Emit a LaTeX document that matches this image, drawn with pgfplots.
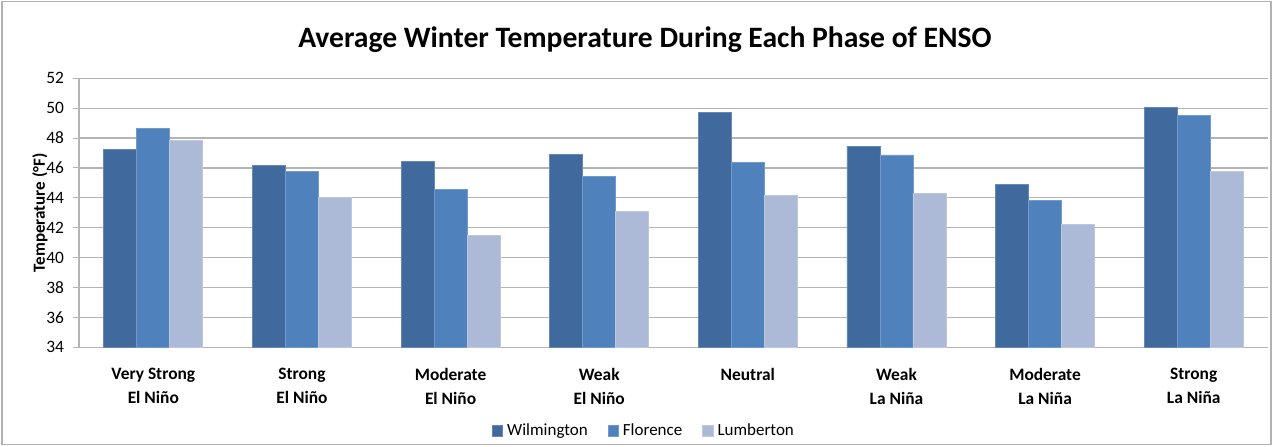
\documentclass[border=0pt]{standalone}
\usepackage{fontspec}
\setmainfont{Carlito}
\usepackage{pgfplots}
\pgfplotsset{compat=1.18}
\definecolor{cW}{HTML}{406A9D}
\definecolor{cF}{HTML}{4F81BD}
\definecolor{cL}{HTML}{ACBAD7}
\definecolor{gridc}{HTML}{B4B4B4}
\begin{document}
\begin{tikzpicture}[x=1pt,y=1pt]
\useasboundingbox (0,0) rectangle (637,223);
\draw[gray!60, line width=0.6pt] (1,0.8) rectangle (635.5,222.2);
\node[font=\fontsize{14.8}{17}\selectfont\bfseries] at (322.5,203) {Average Winter Temperature During Each Phase of ENSO};
\begin{axis}[
  at={(39.5pt,49.35pt)}, anchor=south west,
  scale only axis, width=594.5pt, height=134.5pt,
  ymin=34, ymax=52, ytick={34,36,...,52},
  xmin=-0.5, xmax=7.5,
  xtick={0,...,7},
  xticklabels={{Very Strong\\El Niño},{Strong\\El Niño},{Moderate\\El Niño},{Weak\\El Niño},{Neutral},{Weak\\La Niña},{Moderate\\La Niña},{Strong\\La Niña}},
  xticklabel style={align=center, font=\fontsize{8.7}{12}\selectfont\bfseries, yshift=-4pt},
  major x tick style={draw=none},
  extra x ticks={-0.5,0.5,...,7.5},
  extra x tick labels={},
  extra x tick style={grid=none, major tick length=3.5pt, tick align=outside, tick style={draw=gridc, line width=0.5pt}},
  ymajorgrids, grid style={gridc, line width=0.6pt},
  y tick style={draw=gridc, line width=0.5pt},
  tick align=outside, major tick length=3pt,
  yticklabel style={font=\fontsize{8.7}{10}\selectfont, xshift=-1pt},
  /pgf/number format/assume math mode=true,
  axis line style={draw=gridc, line width=0.6pt},
  axis x line*=bottom, axis y line*=left,
  ylabel={Temperature (°F)},
  ylabel style={font=\fontsize{8.5}{10}\selectfont\bfseries, at={(axis description cs:-0.0328,0.5)}, anchor=center},
  ybar, bar width=16.5pt,
  legend style={at={(axis description cs:0.476,-0.311)}, anchor=center, draw=none, fill=none, legend columns=3,
     font=\fontsize{8.5}{10}\selectfont, /tikz/every even column/.append style={column sep=8pt}},
  legend image code/.code={\fill[#1] (0pt,-2.6pt) rectangle (5.2pt,2.6pt);},
  legend cell align=left,
  clip=false,
]
\addplot[fill=cW, draw=cW!80!white, bar shift=-16.5pt] coordinates {(0,47.25) (1,46.15) (2,46.42) (3,46.93) (4,49.72) (5,47.47) (6,44.90) (7,50.08)};
\addplot[fill=cF, draw=cF!80!white, bar shift=0pt] coordinates {(0,48.65) (1,45.77) (2,44.59) (3,45.44) (4,46.38) (5,46.87) (6,43.85) (7,49.52)};
\addplot[fill=cL, draw=cL!80!white, bar shift=16.5pt] coordinates {(0,47.87) (1,44.05) (2,41.47) (3,43.12) (4,44.19) (5,44.32) (6,42.20) (7,45.77)};
\legend{Wilmington, Florence, Lumberton}
\end{axis}
\end{tikzpicture}
\end{document}
